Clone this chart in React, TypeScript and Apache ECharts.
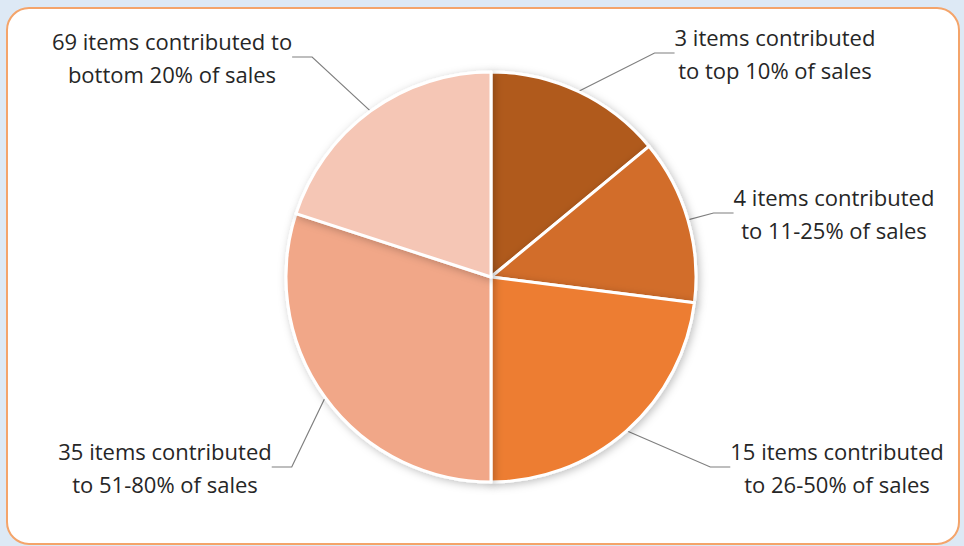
import React, { useEffect, useRef } from "react";
import * as echarts from "echarts";

const labels = [
  "3 items contributed\nto top 10% of sales",
  "4 items contributed\nto 11-25% of sales",
  "15 items contributed\nto 26-50% of sales",
  "35 items contributed\nto 51-80% of sales",
  "69 items contributed to\nbottom 20% of sales",
];
const shares = [14, 13, 23, 30, 20];
const colors = ["#b05a1f", "#d26d2a", "#ed7d31", "#f1a788", "#f5c6b5"];
const labelPos: [number, number][] = [
  [775, 53],
  [834, 213],
  [837, 467],
  [165, 467],
  [172, 57],
];

export default function App() {
  const ref = useRef<HTMLDivElement>(null);
  useEffect(() => {
    if (!ref.current) return;
    const chart = echarts.init(ref.current, null, { renderer: "svg" });
    chart.setOption({
      animation: false,
      backgroundColor: "#dde9f5",
      graphic: [
        {
          type: "rect",
          z: -10,
          shape: { x: 7, y: 8, width: 952, height: 536, r: 22 },
          style: { fill: "#ffffff", stroke: "#f4a46a", lineWidth: 2 },
        },
      ],
      series: [
        {
          type: "pie",
          center: [491, 277],
          radius: 205,
          startAngle: 90,
          clockwise: true,
          data: labels.map((name, i) => ({
            name,
            value: shares[i],
            itemStyle: { color: colors[i] },
          })),
          itemStyle: {
            borderColor: "#ffffff",
            borderWidth: 3,
            shadowBlur: 8,
            shadowColor: "rgba(0,0,0,0.25)",
            shadowOffsetX: 2,
            shadowOffsetY: 2,
          },
          label: {
            show: true,
            formatter: "{b}",
            fontFamily: "Open Sans",
            fontSize: 22,
            lineHeight: 33,
            color: "#262626",
            align: "center",
          },
          labelLine: {
            show: true,
            length: 20,
            length2: 20,
            lineStyle: { color: "#7f7f7f", width: 1.2 },
          },
          labelLayout: (params: any) => {
            const p = labelPos[params.dataIndex];
            return {
              x: p[0],
              y: p[1],
              align: "center",
              verticalAlign: "middle",
            };
          },
          emphasis: { disabled: true },
        },
      ],
    });
    return () => chart.dispose();
  }, []);
  return (
    <div
      ref={ref}
      style={{ position: "absolute", left: 0, top: 0, width: 964, height: 546 }}
    />
  );
}
